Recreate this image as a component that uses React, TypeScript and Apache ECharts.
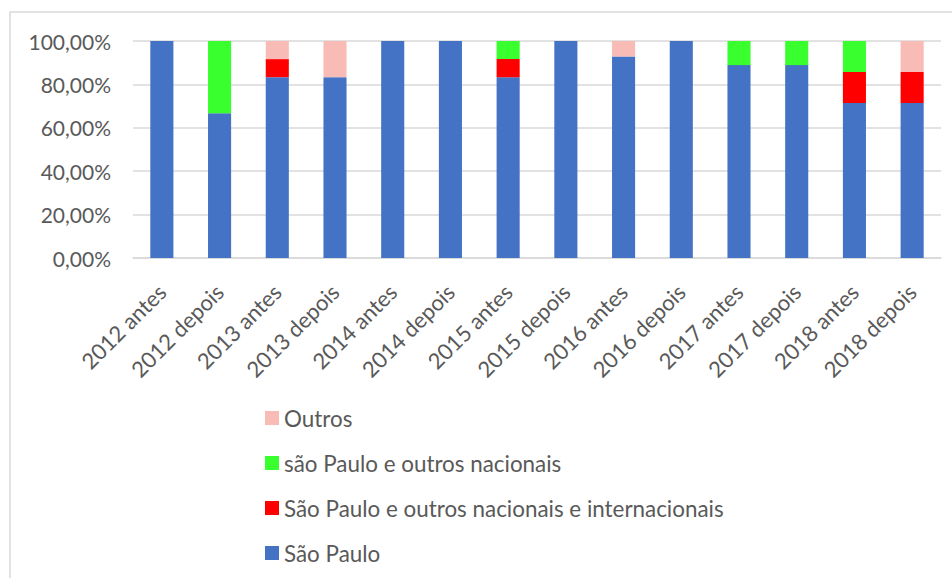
import React, { useEffect, useRef } from "react";
import * as echarts from "echarts";

const categories = [
  "2012 antes", "2012 depois", "2013 antes", "2013 depois", "2014 antes", "2014 depois",
  "2015 antes", "2015 depois", "2016 antes", "2016 depois", "2017 antes", "2017 depois",
  "2018 antes", "2018 depois",
];
const saoPaulo = [1, 0.6667, 0.8333, 0.8333, 1, 1, 0.8333, 1, 0.9286, 1, 0.8889, 0.8889, 0.7143, 0.7143];
const spNacInt = [0, 0, 0.0833, 0, 0, 0, 0.0833, 0, 0, 0, 0, 0, 0.1429, 0.1429];
const spNac = [0, 0.3333, 0, 0, 0, 0, 0.0833, 0, 0, 0, 0.1111, 0.1111, 0.1429, 0];
const outros = [0, 0, 0.0833, 0.1667, 0, 0, 0, 0, 0.0714, 0, 0, 0, 0, 0.1429];
const yTicks = [0, 0.2, 0.4, 0.6, 0.8, 1];

const seriesNames = [
  "São Paulo",
  "São Paulo e outros nacionais e internacionais",
  "são Paulo e outros nacionais",
  "Outros",
];
const seriesColors = ["#4472C4", "#FF0000", "#3AFF2E", "#F9BBB6"];
const seriesData = [saoPaulo, spNacInt, spNac, outros];

const FONT = "Lato";
const TEXT = "#595959";

export default function App() {
  const ref = useRef<HTMLDivElement>(null);
  useEffect(() => {
    document.body.style.margin = "0";
    const chart = echarts.init(ref.current!, null, { renderer: "svg" });
    chart.setOption({
      animation: false,
      textStyle: { fontFamily: FONT },
      grid: { left: 133, right: 11, top: 41, bottom: 320, containLabel: false },
      graphic: [
        {
          type: "rect",
          shape: { x: 10, y: 12, width: 1000, height: 700 },
          style: { fill: "none", stroke: "#D9D9D9", lineWidth: 1.5 },
          silent: true,
        },
      ],
      legend: {
        orient: "vertical",
        left: 265,
        top: 407,
        padding: 0,
        itemWidth: 14,
        itemHeight: 14,
        itemGap: 23,
        icon: "rect",
        data: [...seriesNames].reverse(),
        textStyle: { fontFamily: FONT, fontSize: 22.4, lineHeight: 22, color: TEXT },
      },
      xAxis: {
        type: "category",
        data: categories,
        axisTick: { show: false },
        axisLine: { lineStyle: { color: "#D9D9D9", width: 1.5 } },
        axisLabel: {
          rotate: 45,
          interval: 0,
          margin: 30,
          fontFamily: FONT,
          fontSize: 22,
          color: TEXT,
        },
      },
      yAxis: {
        type: "value",
        min: 0,
        max: 1,
        interval: 0.2,
        axisLine: { show: false },
        axisTick: { show: false },
        splitLine: { lineStyle: { color: "#D9D9D9", width: 1.5 } },
        axisLabel: {
          margin: 22,
          fontFamily: FONT,
          fontSize: 21,
          color: TEXT,
          customValues: yTicks,
          formatter: (v: number) => (v * 100).toFixed(2).replace(".", ",") + "%",
        },
      },
      series: seriesNames.map((name, i) => ({
        name,
        type: "bar",
        stack: "total",
        barWidth: "40%",
        data: seriesData[i],
        itemStyle: { color: seriesColors[i] },
      })),
    });
    return () => chart.dispose();
  }, []);
  return <div ref={ref} style={{ width: 952, height: 578 }} />;
}
